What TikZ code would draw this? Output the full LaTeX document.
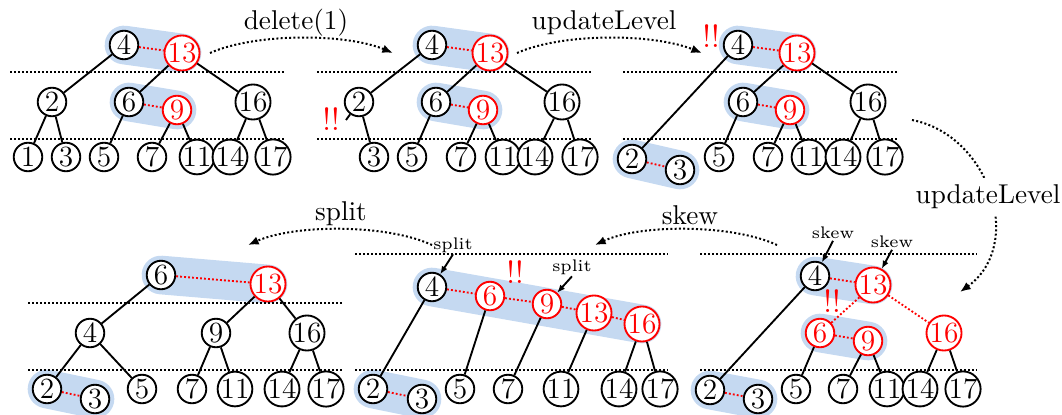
\documentclass[tikz,border=0pt]{standalone}
\usetikzlibrary{arrows.meta,backgrounds}
\definecolor{hlblue}{RGB}{197,217,241}
\begin{document}
\begin{tikzpicture}[x=0.375pt,y=-0.375pt,
 nb/.style={circle,draw=black,fill=white,line width=0.7pt,minimum size=10.7pt,inner sep=0pt,font=\fontsize{11}{11}\selectfont},
 nr/.style={nb,draw=red,text=red},
 edge/.style={line width=0.7pt},
 rlink/.style={red,line width=0.7pt,dash pattern=on 0.7pt off 0.8pt},
 lvl/.style={line width=0.75pt,dash pattern=on 0.75pt off 0.75pt},
 band/.style={hlblue,line width=14.5pt,line cap=round},
 op/.style={line width=0.75pt,dash pattern=on 0.75pt off 0.85pt,-{Latex[length=4pt,width=3.2pt]}},
 oplabel/.style={font=\fontsize{10.2}{12}\selectfont,inner sep=1pt},
 mini/.style={font=\fontsize{6.3}{7}\selectfont,inner sep=0.5pt},
 miniarrow/.style={line width=0.7pt,-{Latex[length=3pt,width=2.4pt]}},
 bang/.style={text=red,font=\fontsize{12}{12}\selectfont,inner sep=0pt}
]
\useasboundingbox (0,0) rectangle (1062,414);

% ---------- Panel 1 ----------
\node[nb] (a4) at (124,45) {4};
\node[nr] (a13) at (182,53) {13};
\node[nb] (a2) at (52,102) {2};
\node[nb] (a6) at (129,102) {6};
\node[nr] (a9) at (177,110) {9};
\node[nb] (a16) at (253,102) {16};
\node[nb] (a1) at (28,157) {1};
\node[nb] (a3) at (66,157) {3};
\node[nb] (a5) at (104,157) {5};
\node[nb] (a7) at (152,157) {7};
\node[nb] (a11) at (197,157) {11};
\node[nb] (a14) at (230,157) {14};
\node[nb] (a17) at (273,157) {17};
\draw[lvl] (10,72) -- (285,72);
\draw[lvl] (10,139) -- (285,139);
\draw[edge] (a4) -- (a2);
\draw[edge] (a13) -- (a6);
\draw[edge] (a13) -- (a16);
\draw[edge] (a2) -- (a1);
\draw[edge] (a2) -- (a3);
\draw[edge] (a6) -- (a5);
\draw[edge] (a9) -- (a7);
\draw[edge] (a9) -- (a11);
\draw[edge] (a16) -- (a14);
\draw[edge] (a16) -- (a17);
\draw[rlink] (a4) -- (a13);
\draw[rlink] (a6) -- (a9);

% ---------- Panel 2 ----------
\node[nb] (b4) at (432,45) {4};
\node[nr] (b13) at (490,53) {13};
\node[nb] (b2) at (359,102) {2};
\node[nb] (b6) at (436,102) {6};
\node[nr] (b9) at (483,110) {9};
\node[nb] (b16) at (562,102) {16};
\node[nb] (b3) at (374,157) {3};
\node[nb] (b5) at (412,157) {5};
\node[nb] (b7) at (461,157) {7};
\node[nb] (b11) at (503,157) {11};
\node[nb] (b14) at (535,157) {14};
\node[nb] (b17) at (580,157) {17};
\coordinate (bstub) at (346,120);
\draw[lvl] (317,72) -- (592,72);
\draw[lvl] (317,139) -- (592,139);
\draw[edge] (b4) -- (b2);
\draw[edge] (b13) -- (b6);
\draw[edge] (b13) -- (b16);
\draw[edge] (b2) -- (b3);
\draw[edge] (b2) -- (bstub);
\draw[edge] (b6) -- (b5);
\draw[edge] (b9) -- (b7);
\draw[edge] (b9) -- (b11);
\draw[edge] (b16) -- (b14);
\draw[edge] (b16) -- (b17);
\draw[rlink] (b4) -- (b13);
\draw[rlink] (b6) -- (b9);
\node[bang] (bbang) at (331,119) {!!};

% ---------- Panel 3 ----------
\node[nb] (c4) at (738,45) {4};
\node[nr] (c13) at (797,53) {13};
\node[nb] (c6) at (743,102) {6};
\node[nr] (c9) at (790,110) {9};
\node[nb] (c16) at (868,102) {16};
\node[nb] (c2) at (632,159) {2};
\node[nb] (c3) at (680,170) {3};
\node[nb] (c5) at (719,157) {5};
\node[nb] (c7) at (768,157) {7};
\node[nb] (c11) at (809,157) {11};
\node[nb] (c14) at (843,157) {14};
\node[nb] (c17) at (885,157) {17};
\draw[lvl] (623,72) -- (898,72);
\draw[lvl] (623,139) -- (898,139);
\draw[edge] (c4) -- (c2);
\draw[edge] (c13) -- (c6);
\draw[edge] (c13) -- (c16);
\draw[edge] (c6) -- (c5);
\draw[edge] (c9) -- (c7);
\draw[edge] (c9) -- (c11);
\draw[edge] (c16) -- (c14);
\draw[edge] (c16) -- (c17);
\draw[rlink] (c4) -- (c13);
\draw[rlink] (c6) -- (c9);
\draw[rlink] (c2) -- (c3);
\node[bang] (cbang) at (711,36) {!!};

% ---------- Panel 4 (bottom left) ----------
\node[nb] (d6) at (161,275) {6};
\node[nr] (d13) at (268,284) {13};
\node[nb] (d4) at (90,333) {4};
\node[nb] (d9) at (216,333) {9};
\node[nb] (d16) at (307,333) {16};
\node[nb] (d2) at (47,389) {2};
\node[nb] (d3) at (95,399) {3};
\node[nb] (d5) at (142,389) {5};
\node[nb] (d7) at (192,389) {7};
\node[nb] (d11) at (235,389) {11};
\node[nb] (d14) at (282,389) {14};
\node[nb] (d17) at (326,389) {17};
\draw[lvl] (28,303) -- (343,303);
\draw[lvl] (28,370) -- (343,370);
\draw[edge] (d6) -- (d4);
\draw[edge] (d13) -- (d9);
\draw[edge] (d13) -- (d16);
\draw[edge] (d4) -- (d2);
\draw[edge] (d4) -- (d5);
\draw[edge] (d9) -- (d7);
\draw[edge] (d9) -- (d11);
\draw[edge] (d16) -- (d14);
\draw[edge] (d16) -- (d17);
\draw[rlink] (d6) -- (d13);
\draw[rlink] (d2) -- (d3);

% ---------- Panel 5 (bottom middle) ----------
\node[nb] (e4) at (432,287) {4};
\node[nr] (e6) at (490,296) {6};
\node[nr] (e9) at (547,304) {9};
\node[nr] (e13) at (594,313) {13};
\node[nr] (e16) at (642,324) {16};
\node[nb] (e2) at (373,389) {2};
\node[nb] (e3) at (422,399) {3};
\node[nb] (e5) at (460,389) {5};
\node[nb] (e7) at (508,389) {7};
\node[nb] (e11) at (561,389) {11};
\node[nb] (e14) at (619,389) {14};
\node[nb] (e17) at (660,389) {17};
\draw[lvl] (355,254) -- (668,254);
\draw[lvl] (355,370) -- (668,370);
\draw[edge] (e4) -- (e2);
\draw[edge] (e6) -- (e5);
\draw[edge] (e9) -- (e7);
\draw[edge] (e13) -- (e11);
\draw[edge] (e16) -- (e14);
\draw[edge] (e16) -- (e17);
\draw[rlink] (e4) -- (e6);
\draw[rlink] (e6) -- (e9);
\draw[rlink] (e9) -- (e13);
\draw[rlink] (e13) -- (e16);
\draw[rlink] (e2) -- (e3);
\node[bang] (ebang) at (515,272) {!!};
\node[mini] (esplitA) at (453,245) {split};
\node[mini] (esplitB) at (572,267) {split};
\draw[miniarrow] (esplitA.south) -- (e4);
\draw[miniarrow] (esplitB.south) -- (e9);

% ---------- Panel 6 (bottom right) ----------
\node[nb] (f4) at (815,276) {4};
\node[nr] (f13) at (873,285) {13};
\node[nr] (f6) at (820,333) {6};
\node[nr] (f9) at (868,341) {9};
\node[nr] (f16) at (944,333) {16};
\node[nb] (f2) at (710,390) {2};
\node[nb] (f3) at (758,399) {3};
\node[nb] (f5) at (796,389) {5};
\node[nb] (f7) at (843,389) {7};
\node[nb] (f11) at (887,389) {11};
\node[nb] (f14) at (920,389) {14};
\node[nb] (f17) at (963,389) {17};
\draw[lvl] (700,254) -- (977,254);
\draw[lvl] (700,370) -- (977,370);
\draw[edge] (f4) -- (f2);
\draw[edge] (f6) -- (f5);
\draw[edge] (f9) -- (f7);
\draw[edge] (f9) -- (f11);
\draw[edge] (f16) -- (f14);
\draw[edge] (f16) -- (f17);
\draw[rlink] (f4) -- (f13);
\draw[rlink] (f13) -- (f6);
\draw[rlink] (f13) -- (f16);
\draw[rlink] (f6) -- (f9);
\draw[rlink] (f2) -- (f3);
\node[bang] (fbang) at (832,301) {!!};
\node[mini] (fskewA) at (833,233) {skew};
\node[mini] (fskewB) at (892,242) {skew};
\draw[miniarrow] (fskewA.south) -- (f4);
\draw[miniarrow] (fskewB.south) -- (f13);

% ---------- highlight bands ----------
\begin{scope}[on background layer]
\draw[band] (a4.center) -- (a13.center);
\draw[band] (a6.center) -- (a9.center);
\draw[band] (b4.center) -- (b13.center);
\draw[band] (b6.center) -- (b9.center);
\draw[band] (c4.center) -- (c13.center);
\draw[band] (c6.center) -- (c9.center);
\draw[band] (c2.center) -- (c3.center);
\draw[band] (d6.center) -- (d13.center);
\draw[band] (d2.center) -- (d3.center);
\draw[band] (e4.center) -- (e16.center);
\draw[band] (e2.center) -- (e3.center);
\draw[band] (f4.center) -- (f13.center);
\draw[band] (f6.center) -- (f9.center);
\draw[band] (f2.center) -- (f3.center);
\end{scope}

% ---------- operation arrows ----------
\coordinate (p1s) at (210,53);
\coordinate (p1e) at (393,53);
\coordinate (p2s) at (517,53);
\coordinate (p2e) at (702,53);
\coordinate (p3s) at (912,120);
\coordinate (p3e) at (960,292);
\coordinate (p6s) at (777,245);
\coordinate (p6e) at (595,245);
\coordinate (p5s) at (432,245);
\coordinate (p5e) at (248,245);
\draw[op] (p1s) .. controls (255,33) and (345,33) .. (p1e);
\node[oplabel] (ldel) at (296,23) {delete(1)};
\draw[op] (p2s) .. controls (562,33) and (652,33) .. (p2e);
\node[oplabel] (lup1) at (604,23) {updateLevel};
\draw[op] (p3s) .. controls (990,135) and (1025,245) .. (p3e);
\node[oplabel,fill=white,inner sep=2.5pt] (lup2) at (988,197) {updateLevel};
\draw[op] (p6s) .. controls (732,224) and (640,224) .. (p6e);
\node[oplabel] (lskew) at (690,215) {skew};
\draw[op] (p5s) .. controls (387,224) and (295,224) .. (p5e);
\node[oplabel] (lsplit) at (341,214) {split};
\end{tikzpicture}
\end{document}
